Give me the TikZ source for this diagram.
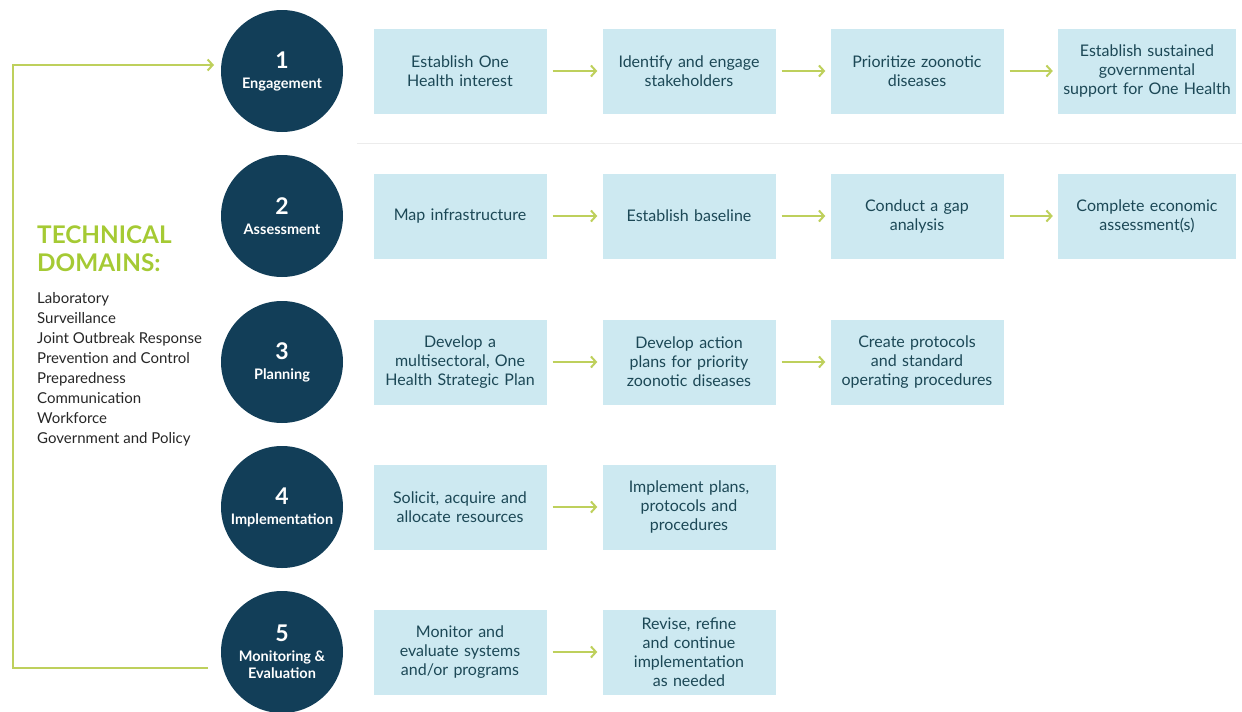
\documentclass[tikz,border=0pt]{standalone}
\usepackage{fontspec}
\setmainfont{Lato}
\usetikzlibrary{positioning,arrows.meta}
\definecolor{navy}{RGB}{18,62,88}
\definecolor{boxblue}{RGB}{205,233,241}
\definecolor{boxtext}{RGB}{28,72,86}
\definecolor{arrowgreen}{RGB}{190,208,92}
\definecolor{titlegreen}{RGB}{165,202,52}
\newcommand{\phasenum}[1]{{\fontsize{23}{25}\selectfont #1}}

\begin{document}
\begin{tikzpicture}[x=1pt,y=-1pt,
    phase/.style={circle, fill=navy, text=white, minimum size=122pt, inner sep=0pt,
      align=center, font=\fontsize{14.5}{17}\selectfont\bfseries},
    stepbox/.style={fill=boxblue, text=boxtext, minimum width=173pt, minimum height=85pt,
      text width=170pt, align=center, inner sep=0pt, font=\fontsize{16}{19}\selectfont},
    flow/.style={draw=arrowgreen, line width=2pt, -{Straight Barb[length=5pt,width=11pt]},
      shorten <=6pt, shorten >=5pt}]
    \useasboundingbox (0,0) rectangle (1242,712);

    % Loop back from evaluation to engagement
    \coordinate (loopout) at (208,668);
    \coordinate (loopbot) at (13,668);
    \coordinate (looptop) at (13,65);
    \coordinate (loopin) at (214,65);
    \draw[arrowgreen, line width=2pt, -{Straight Barb[length=5pt,width=11pt]}]
        (loopout) -- (loopbot) -- (looptop) -- (loopin);

    % Technical domains
    \node[anchor=north west, inner sep=0pt, align=left, text=titlegreen,
          font=\fontsize{24.3}{28}\selectfont\bfseries] (techtitle) at (37,226)
          {TECHNICAL\\DOMAINS:};
    \node[anchor=north west, inner sep=0pt, align=left, text=black!85,
          font=\fontsize{15}{20}\selectfont] (techlist) at (37,292)
          {Laboratory\\
          Surveillance\\
          Joint Outbreak Response\\
          Prevention and Control\\
          Preparedness\\
          Communication\\
          Workforce\\
          Government and Policy};

    % Phases
    \node[phase] (c1) at (282,71) {\phasenum{1}\\[3pt]Engagement};
    \node[phase] (c2) at (282,216) {\phasenum{2}\\[3pt]Assessment};
    \node[phase] (c3) at (282,362) {\phasenum{3}\\[3pt]Planning};
    \node[phase] (c4) at (282,507) {\phasenum{4}\\[3pt]Implementation};
    \node[phase] (c5) at (282,652) {\phasenum{5}\\[3pt]Monitoring \&\\Evaluation};

    % Separator under engagement row
    \draw[gray!15, line width=1pt] (357,143) -- (1242,143);

    % Row 1: engagement
    \node[stepbox] (e1) at (460,71) {Establish One\\Health interest};
    \node[stepbox] (e2) at (689,71) {Identify and engage\\stakeholders};
    \node[stepbox] (e3) at (917,71) {Prioritize zoonotic\\diseases};
    \node[stepbox, minimum width=178pt] (e4) at (1147,71) {Establish sustained\\governmental\\support for One Health};
    \draw[flow] (e1) -- (e2);
    \draw[flow] (e2) -- (e3);
    \draw[flow] (e3) -- (e4);

    % Row 2: assessment
    \node[stepbox] (a1) at (460,216) {Map infrastructure};
    \node[stepbox] (a2) at (689,216) {Establish baseline};
    \node[stepbox] (a3) at (917,216) {Conduct a gap\\analysis};
    \node[stepbox, minimum width=178pt] (a4) at (1147,216) {Complete economic\\assessment(s)};
    \draw[flow] (a1) -- (a2);
    \draw[flow] (a2) -- (a3);
    \draw[flow] (a3) -- (a4);

    % Row 3: planning
    \node[stepbox] (p1) at (460,362) {Develop a\\multisectoral, One\\Health Strategic Plan};
    \node[stepbox] (p2) at (689,362) {Develop action\\plans for priority\\zoonotic diseases};
    \node[stepbox] (p3) at (917,362) {Create protocols\\and standard\\operating procedures};
    \draw[flow] (p1) -- (p2);
    \draw[flow] (p2) -- (p3);

    % Row 4: implementation
    \node[stepbox] (i1) at (460,507) {Solicit, acquire and\\allocate resources};
    \node[stepbox] (i2) at (689,507) {Implement plans,\\protocols and\\procedures};
    \draw[flow] (i1) -- (i2);

    % Row 5: monitoring
    \node[stepbox] (m1) at (460,652) {Monitor and\\evaluate systems\\and/or programs};
    \node[stepbox] (m2) at (689,652) {Revise, refine\\and continue\\implementation\\as needed};
    \draw[flow] (m1) -- (m2);
\end{tikzpicture}
\end{document}
